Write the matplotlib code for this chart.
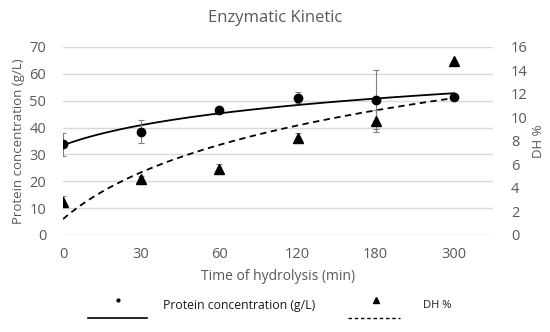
import numpy as np
import matplotlib
matplotlib.use("Agg")
import matplotlib.pyplot as plt
from matplotlib.lines import Line2D

times = ["0", "30", "60", "120", "180", "300"]
protein = [33.8, 38.5, 46.6, 51.1, 50.4, 51.2]
protein_err = [4.2, 4.2, 0.8, 2.0, 11.0, 0.0]
dh = [2.85, 4.75, 5.6, 8.25, 9.7, 14.8]
dh_err = [0.5, 0.3, 0.4, 0.4, 0.9, 0.0]

GREY = "#595959"
plt.rcParams["font.family"] = ["Open Sans", "DejaVu Sans"]

fig = plt.figure(figsize=(5.5, 3.32), dpi=100)
ax = fig.add_axes([63 / 550, 97 / 332, 430 / 550, 188 / 332])
ax2 = ax.twinx()

idx = np.arange(len(times))
xs = np.linspace(0, len(times) - 1, 200)

# Excel-style logarithmic trendlines on the category index (1..n)
a1, b1 = np.polyfit(np.log(idx + 1), protein, 1)
a2, b2 = np.polyfit(np.log(idx + 1), dh, 1)

ax.errorbar(idx, protein, yerr=protein_err, fmt="o", color="black", ms=6,
            ecolor="#808080", elinewidth=0.8, capsize=2, capthick=0.8, zorder=4)
ax.plot(xs, a1 * np.log(xs + 1) + b1, color="black", lw=1.3, zorder=3)

ax2.errorbar(idx, dh, yerr=dh_err, fmt="^", color="black", ms=6.5,
             ecolor="#808080", elinewidth=0.8, capsize=2, capthick=0.8, zorder=4)
ax2.plot(xs, a2 * np.log(xs + 1) + b2, color="black", lw=1.3, ls=(0, (3.5, 2.5)), zorder=3)

ax.set_xlim(0, 5.5)
ax.set_ylim(0, 70)
ax.set_yticks(range(0, 71, 10))
ax2.set_ylim(0, 16)
ax2.set_yticks(range(0, 17, 2))
ax.set_xticks(idx)
ax.set_xticklabels(times)
ax.grid(axis="y", color="#d9d9d9", lw=1)
ax.set_axisbelow(True)

for a in (ax, ax2):
    for s in a.spines.values():
        s.set_visible(False)
    a.tick_params(length=0, labelsize=10.5, colors=GREY)
ax.tick_params(axis="y", pad=12)
ax.tick_params(axis="x", pad=9)
ax2.tick_params(axis="y", pad=13)

ax.set_ylabel("Protein concentration (g/L)", fontsize=9.5, color=GREY, labelpad=3)
ax2.set_ylabel("DH %", fontsize=9.5, color=GREY, labelpad=3)
ax.set_xlabel("Time of hydrolysis (min)", fontsize=10, color=GREY, labelpad=5)
fig.text(0.5, 1 - 18 / 332, "Enzymatic Kinetic", ha="center", va="center",
         fontsize=12, color=GREY)

# legend drawn Excel-style: marker above a short line sample
def fx(px):
    return px / 550

def fy(py):
    return 1 - py / 332

fig.add_artist(Line2D([fx(118)], [fy(300)], marker="o", ms=2, color="black", ls=""))
fig.add_artist(Line2D([fx(88), fx(147)], [fy(318), fy(318)], color="black", lw=1.2))
fig.text(fx(163), fy(306), "Protein concentration (g/L)", fontsize=8.8,
         color="#1a1a1a", va="center")
fig.add_artist(Line2D([fx(376)], [fy(300)], marker="^", ms=4, color="black", ls=""))
fig.add_artist(Line2D([fx(348), fx(400)], [fy(318), fy(318)], color="black", lw=1,
                      ls=(0, (2.5, 2))))
fig.text(fx(423), fy(306), "DH %", fontsize=8, color="#1a1a1a", va="center")

fig.savefig("out.png", dpi=100)
